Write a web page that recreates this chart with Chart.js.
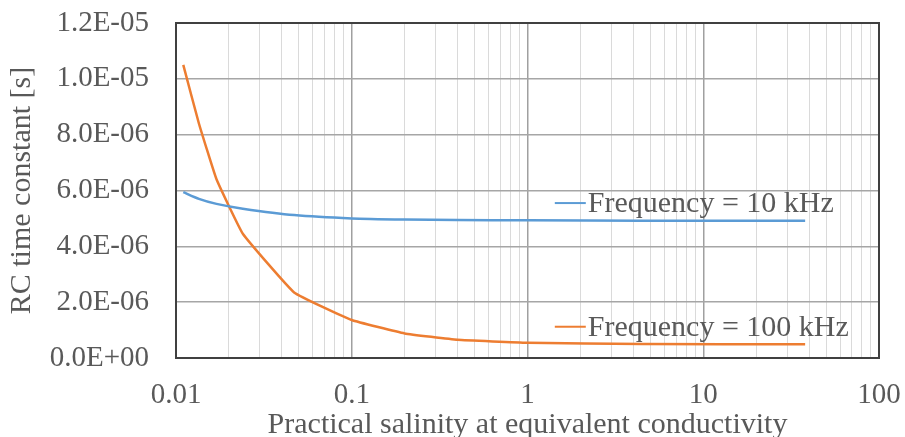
<!DOCTYPE html>
<html>
<head>
<meta charset="utf-8">
<script src="https://cdn.jsdelivr.net/npm/chart.js@4"></script>
<style>
  html, body { margin: 0; padding: 0; background: #fff; }
  #wrap { position: relative; width: 905px; height: 437px; }
</style>
</head>
<body>
<div id="wrap"><canvas id="chart"></canvas></div>
<script>
// Practical salinity (x) and RC time constant (y, seconds)
const salinity = [0.011, 0.0135, 0.017, 0.024, 0.047, 0.1, 0.2, 0.4, 1, 4.5, 38];
const tau10kHz = [5.94e-6, 5.70e-6, 5.52e-6, 5.35e-6, 5.12e-6, 5.00e-6, 4.96e-6, 4.94e-6, 4.93e-6, 4.92e-6, 4.92e-6];
const tau100kHz = [1.05e-5, 8.4e-6, 6.4e-6, 4.45e-6, 2.35e-6, 1.36e-6, 0.88e-6, 0.65e-6, 0.55e-6, 0.50e-6, 0.49e-6];
const seriesLabels = ['Frequency = 10 kHz', 'Frequency = 100 kHz'];
const xDecades = [0.01, 0.1, 1, 10, 100];

const FONT = "'Liberation Serif', 'Times New Roman', serif";
const TEXT = '#595959';
const BLUE = '#5B9BD5';
const ORANGE = '#ED7D31';

const toPoints = ys => salinity.map((x, i) => ({ x, y: ys[i] }));

// Excel-style scientific format: 1.2E-05
function sci(v) {
  if (Math.abs(v) < 1e-12) return '0.0E+00';
  const [m, e] = v.toExponential(1).split('e');
  const n = parseInt(e, 10);
  return m + 'E' + (n < 0 ? '-' : '+') + String(Math.abs(n)).padStart(2, '0');
}

const isDecade = v => Math.abs(Math.log10(v) - Math.round(Math.log10(v))) < 1e-9;

// Labels sitting next to the lines, anchored in data space
const inlineLabels = {
  id: 'inlineLabels',
  afterDatasetsDraw(chart) {
    const { ctx, scales: { x, y } } = chart;
    const anchors = [
      { x: 1.43, y: 5.55e-6, color: BLUE, text: seriesLabels[0] },
      { x: 1.43, y: 1.12e-6, color: ORANGE, text: seriesLabels[1] }
    ];
    ctx.save();
    ctx.font = '30px ' + FONT;
    ctx.textBaseline = 'middle';
    anchors.forEach(a => {
      const px = x.getPixelForValue(a.x);
      const py = y.getPixelForValue(a.y);
      ctx.strokeStyle = a.color;
      ctx.lineWidth = 2;
      ctx.beginPath();
      ctx.moveTo(px, py);
      ctx.lineTo(px + 31, py);
      ctx.stroke();
      ctx.fillStyle = TEXT;
      ctx.fillText(a.text, px + 33, py + 1);
    });
    ctx.restore();
  }
};

// Dark frame around the plot area
const plotFrame = {
  id: 'plotFrame',
  beforeDatasetsDraw(chart) {
    const { ctx, chartArea: a } = chart;
    ctx.save();
    ctx.strokeStyle = '#404040';
    ctx.lineWidth = 2;
    ctx.strokeRect(a.left, a.top, a.right - a.left, a.bottom - a.top);
    ctx.restore();
  }
};

new Chart(document.getElementById('chart'), {
  type: 'line',
  data: {
    datasets: [
      {
        label: seriesLabels[0],
        data: toPoints(tau10kHz),
        borderColor: BLUE,
        borderWidth: 2.5,
        pointRadius: 0,
        tension: 0.2
      },
      {
        label: seriesLabels[1],
        data: toPoints(tau100kHz),
        borderColor: ORANGE,
        borderWidth: 2.5,
        pointRadius: 0,
        tension: 0.1
      }
    ]
  },
  options: {
    responsive: true,
    maintainAspectRatio: false,
    animation: false,
    layout: { padding: { left: 0, right: 26, top: 23, bottom: 0 } },
    plugins: {
      legend: { display: false },
      tooltip: { enabled: false }
    },
    scales: {
      x: {
        type: 'logarithmic',
        min: 0.01,
        max: 100,
        afterBuildTicks(scale) {
          const ticks = [];
          xDecades.slice(0, -1).forEach(d => {
            for (let m = 1; m <= 9; m++) ticks.push({ value: m * d });
          });
          ticks.push({ value: 100 });
          scale.ticks = ticks;
        },
        afterFit(scale) {
          scale.height = 79;
          scale.paddingLeft = 0;
          scale.paddingRight = 0;
        },
        ticks: {
          autoSkip: false,
          maxRotation: 0,
          padding: 20,
          color: TEXT,
          font: { family: FONT, size: 29 },
          callback: v => isDecade(v) ? String(xDecades.find(d => Math.abs(d - v) < d * 1e-6)) : ''
        },
        grid: {
          drawTicks: false,
          color: ctx => isDecade(ctx.tick.value) ? '#a0a0a0' : '#dadada',
          lineWidth: ctx => isDecade(ctx.tick.value) ? 1.5 : 1
        },
        border: { display: false },
        title: {
          display: true,
          text: 'Practical salinity at equivalent conductivity',
          color: TEXT,
          font: { family: FONT, size: 30, lineHeight: 0.8 },
          padding: 0
        }
      },
      y: {
        min: 0,
        max: 1.2e-5,
        afterFit(scale) {
          scale.width = 176;
          scale.paddingTop = 0;
          scale.paddingBottom = 0;
        },
        ticks: {
          stepSize: 2e-6,
          padding: 27,
          color: TEXT,
          font: { family: FONT, size: 29 },
          callback: v => sci(v)
        },
        grid: {
          drawTicks: false,
          color: '#a6a6a6',
          lineWidth: 1.5
        },
        border: { display: false },
        title: {
          display: true,
          text: 'RC time constant [s]',
          color: TEXT,
          font: { family: FONT, size: 30, lineHeight: 1.5 },
          padding: 0
        }
      }
    }
  },
  plugins: [plotFrame, inlineLabels]
});
</script>
</body>
</html>
